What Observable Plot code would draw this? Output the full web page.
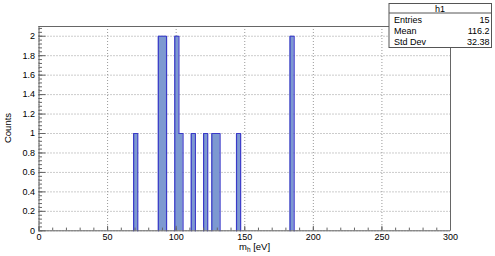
<!DOCTYPE html>
<html><head><meta charset="utf-8">
<script src="https://cdn.jsdelivr.net/npm/d3@7"></script>
<script src="https://cdn.jsdelivr.net/npm/@observablehq/plot@0.6"></script>
<style>
html,body{margin:0;padding:0;background:#fff;}
#chart{position:relative;width:495px;height:256px;}
</style></head>
<body><div id="chart"></div>
<script>
// histogram definition (bins of width 3 from 0 to 300)
const xMin = 0, xMax = 300, binWidth = 3;
// non-empty bins: lower edge and count
const binLow = [69, 87, 90, 99, 102, 111, 120, 126, 129, 144, 183];
const counts = [1, 2, 2, 2, 1, 1, 1, 1, 1, 1, 2];
// axis ticks
const xMajor = [0, 50, 100, 150, 200, 250, 300];
const xMinor = d3.range(0, 301, 10);
const yMajor = [0, 0.2, 0.4, 0.6, 0.8, 1, 1.2, 1.4, 1.6, 1.8, 2];
const yMinor = d3.range(0, 2.1, 0.04);
const yLabels = ["0", "0.2", "0.4", "0.6", "0.8", "1", "1.2", "1.4", "1.6", "1.8", "2"];
// stats box
const statsTitle = "h1";
const statsNames = ["Entries", "Mean", "Std Dev"];
const statsValues = ["15", "116.2", "32.38"];

const nBins = Math.round((xMax - xMin) / binWidth);
const hist = [];
for (let i = 0; i <= nBins; i++) {
  const x = xMin + i * binWidth;
  const j = binLow.indexOf(x);
  hist.push({x, c: (i < nBins && j >= 0) ? counts[j] : 0});
}
// outline polylines, one per contiguous group of non-empty bins
const outline = [];
let gid = -1, prev = 0;
for (let i = 0; i < nBins; i++) {
  const x = hist[i].x, c = hist[i].c;
  if (c > 0 && prev === 0) { gid++; outline.push({x, y: 0, g: gid}); }
  if (c > 0) { outline.push({x, y: c, g: gid}); outline.push({x: x + binWidth, y: c, g: gid}); }
  if (c === 0 && prev > 0) { outline.push({x, y: 0, g: gid}); }
  prev = c;
}

const fillC = "#7d99d1", lineC = "#3a3ac8", axisC = "#666", gridC = "#999";
const plot = Plot.plot({
  width: 495, height: 256,
  marginLeft: 38.5, marginRight: 45, marginTop: 26, marginBottom: 25.7,
  x: {domain: [xMin, xMax], label: null},
  y: {domain: [0, 2.1], label: null},
  style: {fontFamily: "'Liberation Sans', Arial, sans-serif", fontSize: "9px", background: "white", color: "black"},
  marks: [
    Plot.gridX(xMajor, {stroke: gridC, strokeOpacity: 1, strokeDasharray: "1,2"}),
    Plot.gridY(yMajor, {stroke: gridC, strokeOpacity: 1, strokeDasharray: "1,2"}),
    Plot.areaY(hist, {x: "x", y: "c", curve: "step-after", fill: fillC}),
    Plot.line(outline, {x: "x", y: "y", z: "g", stroke: lineC, strokeWidth: 1.2}),
    Plot.ruleY([2.1], {stroke: axisC}),
    Plot.ruleX([300], {stroke: axisC}),
    Plot.ruleY([0], {stroke: axisC}),
    Plot.ruleX([0], {stroke: axisC}),
    Plot.axisX(xMinor, {tickSize: -2.7, tickFormat: () => "", stroke: axisC, label: null}),
    Plot.axisX(xMajor, {tickSize: -4.5, tickFormat: () => "", stroke: axisC, label: null}),
    Plot.axisX(xMajor, {tickSize: 0, tickPadding: 3, label: null}),
    Plot.axisY(yMinor, {tickSize: -3.5, tickFormat: () => "", stroke: axisC, label: null}),
    Plot.axisY(yMajor, {tickSize: -7, tickFormat: () => "", stroke: axisC, label: null}),
    Plot.axisY(yMajor, {tickSize: 0, tickPadding: 4, tickFormat: (d, i) => yLabels[i], label: null})
  ]
});
document.getElementById("chart").appendChild(plot);

const svg = d3.select(plot);
const font = "'Liberation Sans', Arial, sans-serif";
// y title
svg.append("text").attr("transform", "translate(11,128) rotate(-90)")
  .attr("text-anchor", "middle").attr("font-family", font).attr("font-size", "9.5px").text("Counts");
// x title with subscript
const xt = svg.append("text").attr("x", 239).attr("y", 250)
  .attr("text-anchor", "start").attr("font-family", font).attr("font-size", "9.5px");
xt.append("tspan").text("m");
xt.append("tspan").attr("font-size", "6.5px").attr("dy", 2).text("h");
xt.append("tspan").attr("dy", -2).text(" [eV]");
// stats box
const g = svg.append("g");
g.append("rect").attr("x", 389).attr("y", 3.5).attr("width", 102.5).attr("height", 44)
  .attr("fill", "white").attr("stroke", "#555");
g.append("line").attr("x1", 389).attr("x2", 491.5).attr("y1", 13).attr("y2", 13).attr("stroke", "#555");
g.append("text").attr("x", 440).attr("y", 11.5).attr("text-anchor", "middle")
  .attr("font-family", font).attr("font-size", "9px").text(statsTitle);
statsNames.forEach((n, i) => {
  const y = 23.3 + i * 10.7;
  g.append("text").attr("x", 394).attr("y", y).attr("text-anchor", "start")
    .attr("font-family", font).attr("font-size", "9px").text(n);
  g.append("text").attr("x", 489.5).attr("y", y).attr("text-anchor", "end")
    .attr("font-family", font).attr("font-size", "9px").text(statsValues[i]);
});
</script></body></html>
